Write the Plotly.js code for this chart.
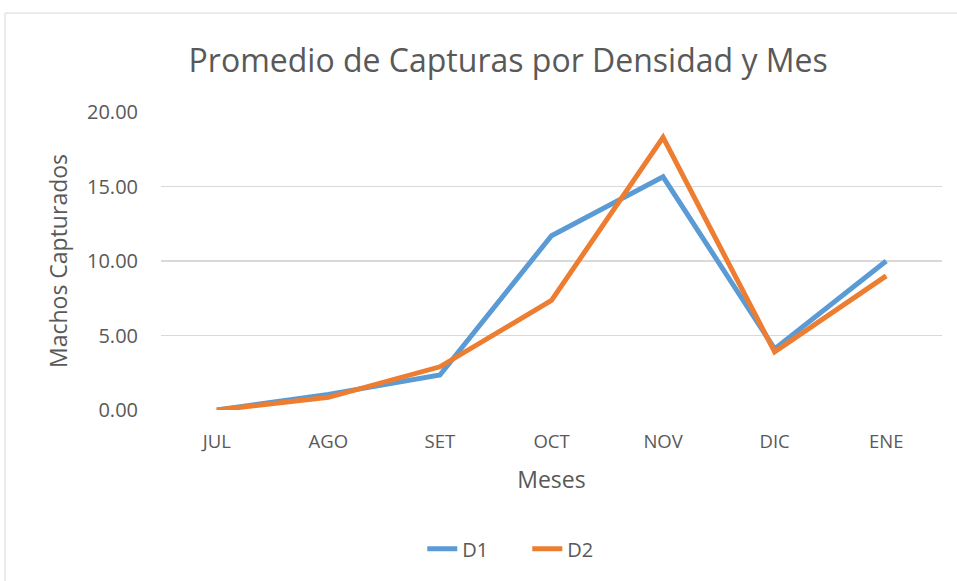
<!DOCTYPE html>
<html>
<head>
<meta charset="utf-8">
<script src="https://cdn.plot.ly/plotly-3.0.1.min.js"></script>
<style>html,body{margin:0;padding:0;background:#fff;}#chart{width:957px;height:581px;}</style>
</head>
<body>
<div id="chart"></div>
<script>
const months = ["JUL", "AGO", "SET", "OCT", "NOV", "DIC", "ENE"];
const d1 = [0.0, 1.05, 2.35, 11.7, 15.65, 4.1, 10.0];
const d2 = [0.0, 0.85, 2.9, 7.35, 18.3, 3.9, 9.0];
const yTicks = [0, 5, 10, 15, 20];
const yTickText = ["0.00", "5.00", "10.00", "15.00", "20.00"];

const font = "Open Sans, Noto Sans, sans-serif";
const grey = "#595959";

const traces = [
  {x: months, y: d1, name: "D1", type: "scatter", mode: "lines",
   line: {color: "#5b9bd5", width: 5, shape: "linear"}},
  {x: months, y: d2, name: "D2", type: "scatter", mode: "lines",
   line: {color: "#ed7d31", width: 5, shape: "linear"}}
];

const layout = {
  width: 957, height: 581,
  margin: {l: 161, r: 15, t: 112, b: 171},
  paper_bgcolor: "#fff", plot_bgcolor: "#fff",
  font: {family: font, color: grey, size: 18},
  title: {text: "Promedio de Capturas por Densidad y Mes",
          font: {family: font, size: 32, color: grey},
          x: 0.531, xanchor: "center", y: 0.895, yanchor: "middle"},
  xaxis: {type: "category", showgrid: false, zeroline: false, showline: false,
          ticks: "", tickfont: {size: 18.5, color: grey}, ticklabelstandoff: 18,
          title: {text: "Meses", font: {size: 23, color: grey}, standoff: 20},
          range: [-0.5, 6.5]},
  yaxis: {range: [0, 20], tickvals: yTicks, ticktext: yTickText,
          showgrid: true, gridcolor: "#d9d9d9", gridwidth: 1.5,
          zeroline: false, showline: false, ticks: "",
          tickfont: {size: 20, color: grey}, ticklabelstandoff: 22,
          title: {text: "Machos Capturados", font: {size: 23, color: grey}, standoff: 12}},
  showlegend: true,
  legend: {orientation: "h", x: 0.469, xanchor: "center", y: -0.466, yanchor: "middle",
           font: {size: 20, color: grey}, entrywidth: 60},
  shapes: [{type: "rect", xref: "paper", yref: "paper",
            x0: -0.1997, x1: 1.2, y0: -1.2, y1: 1.332,
            line: {color: "#d9d9d9", width: 1}, fillcolor: "rgba(0,0,0,0)", layer: "below"}]
};

Plotly.newPlot("chart", traces, layout, {displayModeBar: false, staticPlot: true});
</script>
</body>
</html>
